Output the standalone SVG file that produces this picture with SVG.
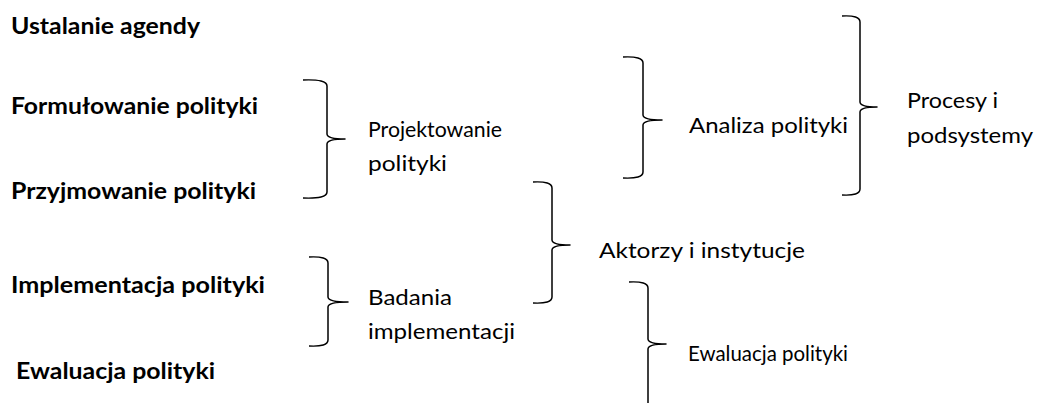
<svg xmlns="http://www.w3.org/2000/svg" width="1037" height="403" viewBox="0 0 1037 403">
<style>
text{font-family:Lato,"Open Sans","Liberation Sans",sans-serif;font-size:22px;fill:#000}
.b{font-weight:bold}
.br{fill:none;stroke:#000;stroke-width:1.5;stroke-linejoin:round}
</style>
<rect width="1037" height="403" fill="#fff"/>
<g id="stage-agenda"><text class="b" x="11" y="34" textLength="189" lengthAdjust="spacingAndGlyphs">Ustalanie agendy</text></g>
<g id="stage-formulation"><text class="b" x="11" y="114" textLength="247" lengthAdjust="spacingAndGlyphs">Formułowanie polityki</text></g>
<g id="stage-adoption"><text class="b" x="11" y="199" textLength="245" lengthAdjust="spacingAndGlyphs">Przyjmowanie polityki</text></g>
<g id="stage-implementation"><text class="b" x="11" y="293" textLength="254" lengthAdjust="spacingAndGlyphs">Implementacja polityki</text></g>
<g id="stage-evaluation"><text class="b" x="16" y="379" textLength="199" lengthAdjust="spacingAndGlyphs">Ewaluacja polityki</text></g>
<g id="policy-design"><text x="368" y="137" textLength="134" lengthAdjust="spacingAndGlyphs">Projektowanie</text><text x="368" y="171" textLength="79" lengthAdjust="spacingAndGlyphs">polityki</text></g>
<g id="implementation-research"><text x="368" y="305" textLength="84" lengthAdjust="spacingAndGlyphs">Badania</text><text x="368" y="339" textLength="147" lengthAdjust="spacingAndGlyphs">implementacji</text></g>
<g id="policy-analysis"><text x="689" y="133" textLength="159" lengthAdjust="spacingAndGlyphs">Analiza polityki</text></g>
<g id="actors-institutions"><text x="599" y="258" textLength="206" lengthAdjust="spacingAndGlyphs">Aktorzy i instytucje</text></g>
<g id="policy-evaluation"><text x="688" y="361" textLength="160" lengthAdjust="spacingAndGlyphs">Ewaluacja polityki</text></g>
<g id="processes-subsystems"><text x="907" y="108" textLength="91" lengthAdjust="spacingAndGlyphs">Procesy i</text><text x="907" y="143" textLength="126" lengthAdjust="spacingAndGlyphs">podsystemy</text></g>
<g id="connectors">
<path class="br" d="M303,80 Q327,79 327,86 L327,134 Q327,139 345,139 Q327,139 327,144 L327,192 Q327,199 303,198"/>
<path class="br" d="M623,57 Q643,56 643,63 L643,115 Q643,120 662,120 Q643,120 643,125 L643,172 Q643,179 623,178"/>
<path class="br" d="M842,16 Q860,15 860,22 L860,102 Q860,107 877,107 Q860,107 860,112 L860,189 Q860,196 842,195"/>
<path class="br" d="M533,182 Q552,181 552,188 L552,240 Q552,245 570,245 Q552,245 552,250 L552,297 Q552,304 533,303"/>
<path class="br" d="M309,257 Q328,256 328,263 L328,297 Q328,302 348,302 Q328,302 328,307 L328,340 Q328,347 309,346"/>
<path class="br" d="M629,282 Q648,281 648,288 L648,339 Q648,344 666,344 Q648,344 648,349 L648,404"/>
</g>
</svg>
